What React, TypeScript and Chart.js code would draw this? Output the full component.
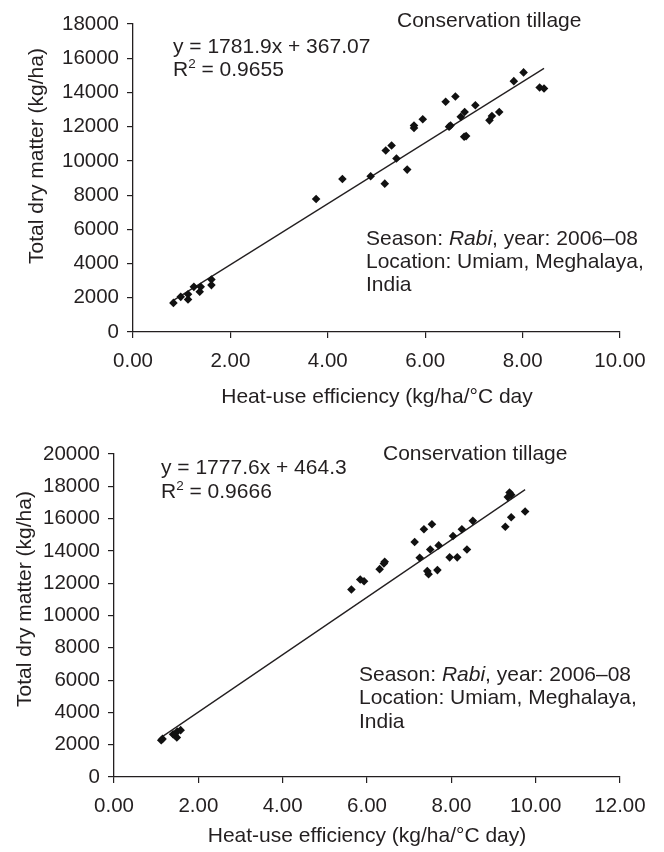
import React, { useEffect, useRef } from 'react';
import { Chart, registerables } from 'chart.js';

Chart.register(...registerables);

const FONT = "'Liberation Sans', Arial, Helvetica, sans-serif";
const INK = '#231f20';
const FS = 21;
const TICK_FS = 20.5;
const SUP = 13.5;

// ---------- Panel 1 (top) ----------
const hueA = [0.83, 0.98, 1.13, 1.13, 1.25, 1.39, 1.37, 1.61, 1.61, 3.76, 4.3, 4.88, 5.17, 5.41, 5.63, 5.19, 5.31, 5.77, 5.77, 5.95, 6.42, 6.62, 6.52, 6.49, 6.73, 6.81, 6.8, 6.84, 7.03, 7.32, 7.37, 7.52, 7.82, 8.02, 8.35, 8.44];
const dmA = [1700, 2055, 2210, 1900, 2640, 2640, 2350, 3070, 2740, 7770, 8940, 9100, 8670, 10140, 9490, 10610, 10900, 12070, 11920, 12430, 13460, 13760, 12070, 12000, 12580, 12860, 11410, 11450, 13250, 12370, 12620, 12860, 14660, 15170, 14290, 14230];
const fitA = [1781.9, 367.07];
const xTicksA = [0, 2, 4, 6, 8, 10];
const yTicksA = [0, 2000, 4000, 6000, 8000, 10000, 12000, 14000, 16000, 18000];
const eqA = 'y = 1781.9x + 367.07';
const r2A = ' = 0.9655';
const xTitleA = 'Heat-use efficiency (kg/ha/°C day';

// ---------- Panel 2 (bottom) ----------
const hueB = [1.12, 1.15, 1.44, 1.49, 1.58, 1.5, 1.4, 5.63, 5.84, 5.93, 6.3, 6.42, 6.4, 7.13, 7.25, 7.35, 7.54, 7.43, 7.46, 7.67, 7.5, 7.7, 7.96, 8.04, 8.14, 8.25, 8.37, 8.51, 9.28, 9.42, 9.38, 9.42, 9.34, 9.75];
const dmB = [2280, 2360, 2590, 2450, 2900, 2820, 2650, 11610, 12230, 12120, 12870, 13330, 13220, 14550, 13580, 15340, 15650, 12750, 12560, 12810, 14090, 14340, 13600, 14920, 13600, 15340, 14090, 15860, 15500, 16080, 17620, 17470, 17330, 16440];
const fitB = [1777.6, 464.3];
const xTicksB = [0, 2, 4, 6, 8, 10, 12];
const yTicksB = [0, 2000, 4000, 6000, 8000, 10000, 12000, 14000, 16000, 18000, 20000];
const eqB = 'y = 1777.6x + 464.3';
const r2B = ' = 0.9666';
const xTitleB = 'Heat-use efficiency (kg/ha/°C day)';

// ---------- shared texts ----------
const panelTitle = 'Conservation tillage';
const yTitle = 'Total dry matter (kg/ha)';
const seasonLine = ['Season: ', 'Rabi', ', year: 2006–08'];
const locationLine = 'Location: Umiam, Meghalaya,';
const countryLine = 'India';

type Seg = { t: string; italic?: boolean; sup?: boolean };
type Item = { x: number; y: number; segs: Seg[]; rotate?: boolean; center?: boolean };

const annotPlugin = {
  id: 'annot',
  afterDraw(chart: any, _a: any, opts: any) {
    const ctx = chart.ctx as CanvasRenderingContext2D;
    (opts.items as Item[]).forEach((it) => {
      ctx.save();
      ctx.fillStyle = INK;
      ctx.textBaseline = 'alphabetic';
      ctx.textAlign = 'left';
      ctx.translate(it.x, it.y);
      if (it.rotate) ctx.rotate(-Math.PI / 2);
      const font = (s: Seg) => `${s.italic ? 'italic ' : ''}${s.sup ? SUP : FS}px ${FONT}`;
      const widths = it.segs.map((s) => {
        ctx.font = font(s);
        return ctx.measureText(s.t).width;
      });
      const total = widths.reduce((a, b) => a + b, 0);
      let x = it.center ? -total / 2 : 0;
      it.segs.forEach((s, i) => {
        ctx.font = font(s);
        ctx.fillText(s.t, x, s.sup ? -8 : 0);
        x += widths[i];
      });
      ctx.restore();
    });
  },
};

type Panel = {
  w: number;
  h: number;
  x: number[];
  y: number[];
  fit: number[];
  xTicks: number[];
  yTicks: number[];
  area: { left: number; right: number; top: number; bottom: number };
  items: Item[];
};

function buildConfig(p: Panel): any {
  const lo = Math.min(...p.x);
  const hi = Math.max(...p.x);
  const trend = [lo, hi].map((v) => ({ x: v, y: p.fit[0] * v + p.fit[1] }));
  const tickFont = { family: FONT, size: TICK_FS };
  return {
    type: 'scatter',
    data: {
      datasets: [
        {
          type: 'line',
          data: trend,
          borderColor: INK,
          borderWidth: 1.3,
          pointRadius: 0,
          fill: false,
          order: 2,
        },
        {
          data: p.x.map((v, i) => ({ x: v, y: p.y[i] })),
          pointStyle: 'rectRot',
          pointRadius: 4.3,
          backgroundColor: '#111',
          borderWidth: 0,
          order: 1,
        },
      ],
    },
    options: {
      responsive: false,
      animation: false,
      events: [],
      layout: { padding: { left: 0, top: p.area.top, right: p.w - p.area.right, bottom: 0 } },
      plugins: {
        legend: { display: false },
        tooltip: { enabled: false },
        annot: { items: p.items },
      },
      scales: {
        x: {
          type: 'linear',
          position: 'bottom',
          min: p.xTicks[0],
          max: p.xTicks[p.xTicks.length - 1],
          afterBuildTicks: (s: any) => {
            s.ticks = p.xTicks.map((v) => ({ value: v }));
          },
          afterFit: (s: any) => {
            s.height = p.h - p.area.bottom;
          },
          ticks: {
            callback: (v: any) => Number(v).toFixed(2),
            color: INK,
            font: tickFont,
            padding: 11,
            maxRotation: 0,
            autoSkip: false,
          },
          grid: { drawOnChartArea: false, drawTicks: true, tickLength: 6, color: INK, lineWidth: 1.2 },
          border: { display: true, color: INK, width: 1.3 },
        },
        y: {
          type: 'linear',
          position: 'left',
          min: p.yTicks[0],
          max: p.yTicks[p.yTicks.length - 1],
          afterBuildTicks: (s: any) => {
            s.ticks = p.yTicks.map((v) => ({ value: v }));
          },
          afterFit: (s: any) => {
            s.width = p.area.left;
          },
          ticks: {
            callback: (v: any) => String(v),
            color: INK,
            font: tickFont,
            padding: 8,
            autoSkip: false,
          },
          grid: { drawOnChartArea: false, drawTicks: true, tickLength: 6, color: INK, lineWidth: 1.2 },
          border: { display: true, color: INK, width: 1.3 },
        },
      },
    },
    plugins: [annotPlugin],
  };
}

const panelA: Panel = {
  w: 664,
  h: 420,
  x: hueA,
  y: dmA,
  fit: fitA,
  xTicks: xTicksA,
  yTicks: yTicksA,
  area: { left: 133, right: 620, top: 24, bottom: 332 },
  items: [
    { x: 397, y: 27, segs: [{ t: panelTitle }] },
    { x: 173, y: 53, segs: [{ t: eqA }] },
    { x: 173, y: 76, segs: [{ t: 'R' }, { t: '2', sup: true }, { t: r2A }] },
    { x: 366, y: 245, segs: [{ t: seasonLine[0] }, { t: seasonLine[1], italic: true }, { t: seasonLine[2] }] },
    { x: 366, y: 268, segs: [{ t: locationLine }] },
    { x: 366, y: 291, segs: [{ t: countryLine }] },
    { x: 377, y: 403, segs: [{ t: xTitleA }], center: true },
    { x: 43, y: 156, segs: [{ t: yTitle }], center: true, rotate: true },
  ],
};

const panelB: Panel = {
  w: 664,
  h: 432,
  x: hueB,
  y: dmB,
  fit: fitB,
  xTicks: xTicksB,
  yTicks: yTicksB,
  area: { left: 114, right: 620, top: 34, bottom: 357 },
  items: [
    { x: 383, y: 40, segs: [{ t: panelTitle }] },
    { x: 161, y: 54, segs: [{ t: eqB }] },
    { x: 161, y: 78, segs: [{ t: 'R' }, { t: '2', sup: true }, { t: r2B }] },
    { x: 359, y: 261, segs: [{ t: seasonLine[0] }, { t: seasonLine[1], italic: true }, { t: seasonLine[2] }] },
    { x: 359, y: 284, segs: [{ t: locationLine }] },
    { x: 359, y: 308, segs: [{ t: countryLine }] },
    { x: 367, y: 422, segs: [{ t: xTitleB }], center: true },
    { x: 31, y: 179, segs: [{ t: yTitle }], center: true, rotate: true },
  ],
};

export default function App() {
  const refA = useRef<HTMLCanvasElement | null>(null);
  const refB = useRef<HTMLCanvasElement | null>(null);

  useEffect(() => {
    const charts: Chart[] = [];
    if (refA.current) charts.push(new Chart(refA.current, buildConfig(panelA)));
    if (refB.current) charts.push(new Chart(refB.current, buildConfig(panelB)));
    return () => charts.forEach((c) => c.destroy());
  }, []);

  return (
    <div style={{ position: 'absolute', left: 0, top: 0, width: 664, height: 852, background: '#fff' }}>
      <canvas
        ref={refA}
        width={664}
        height={420}
        style={{ position: 'absolute', left: 0, top: 0, width: 664, height: 420, display: 'block' }}
      />
      <canvas
        ref={refB}
        width={664}
        height={432}
        style={{ position: 'absolute', left: 0, top: 420, width: 664, height: 432, display: 'block' }}
      />
    </div>
  );
}
